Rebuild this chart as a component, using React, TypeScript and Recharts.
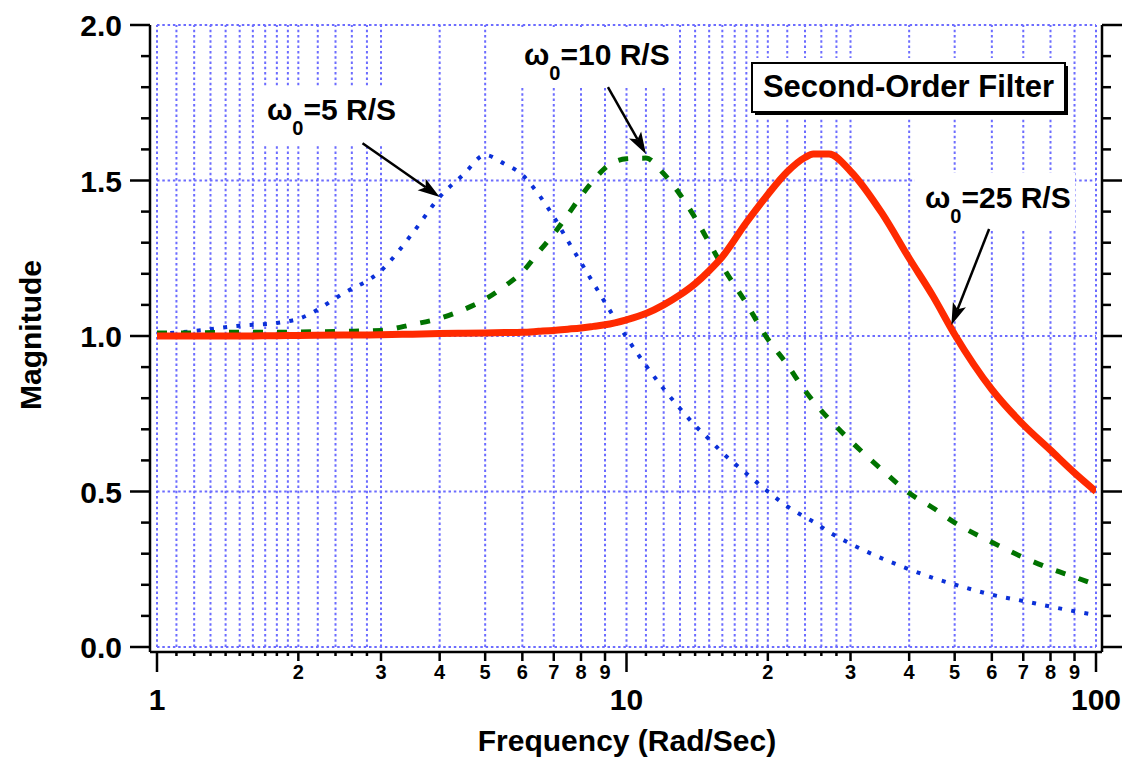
import React from 'react';
import { LineChart, Line, XAxis, YAxis, ReferenceLine } from 'recharts';

// Frequency samples (rad/s) shared by the three responses
const FREQ = [
  1, 1.2, 1.5, 1.8, 2, 2.5, 3, 3.5, 4, 4.5, 5, 5.5, 6, 6.5, 7, 7.5, 8, 8.5, 9, 10,
  11, 12, 13, 14, 15, 16, 18, 20, 22, 24, 25, 27, 30, 35, 40, 45, 50, 60, 70, 80, 90, 100,
];

// |H(jw)| for w0 = 5 rad/s
const MAG_W5 = [
  1.006, 1.016, 1.033, 1.042, 1.055, 1.138, 1.21, 1.33, 1.447, 1.52, 1.582, 1.553, 1.518, 1.455, 1.383, 1.306, 1.236, 1.17, 1.108, 0.996,
  0.905, 0.83, 0.767, 0.712, 0.668, 0.625, 0.558, 0.5, 0.452, 0.418, 0.403, 0.37, 0.332, 0.285, 0.25, 0.222, 0.201, 0.168, 0.148, 0.13, 0.115, 0.103,
];

// |H(jw)| for w0 = 10 rad/s
const MAG_W10 = [
  1.01, 1.01, 1.012, 1.012, 1.013, 1.015, 1.018, 1.037, 1.057, 1.085, 1.118, 1.16, 1.206, 1.27, 1.328, 1.39, 1.45, 1.5, 1.54, 1.57,
  1.572, 1.522, 1.455, 1.38, 1.3, 1.225, 1.105, 0.99, 0.908, 0.824, 0.79, 0.733, 0.663, 0.57, 0.495, 0.447, 0.4, 0.337, 0.288, 0.252, 0.225, 0.2,
];

// |H(jw)| for w0 = 25 rad/s
const MAG_W25 = [
  1.0, 1.0, 1.0, 1.001, 1.002, 1.003, 1.004, 1.006, 1.008, 1.009, 1.01, 1.011, 1.012, 1.015, 1.018, 1.022, 1.026, 1.031, 1.036, 1.052,
  1.072, 1.1, 1.132, 1.168, 1.21, 1.255, 1.365, 1.455, 1.528, 1.574, 1.585, 1.585, 1.53, 1.395, 1.25, 1.127, 1.005, 0.828, 0.715, 0.633, 0.56, 0.5,
];

// log-axis ticks; every tick also gets a grid line
const X_TICKS = [
  1, 1.1, 1.2, 1.3, 1.4, 1.5, 1.6, 1.7, 1.8, 1.9, 2, 2.2, 2.4, 2.6, 2.8, 3, 4, 5, 6, 7, 8, 9,
  10, 11, 12, 13, 14, 15, 16, 17, 18, 19, 20, 22, 24, 26, 28, 30, 40, 50, 60, 70, 80, 90, 100,
];
const X_LABELED = [1, 2, 3, 4, 5, 6, 7, 8, 9, 10, 20, 30, 40, 50, 60, 70, 80, 90, 100];
const X_MAJOR = [1, 10, 100];

const Y_TICKS = [0, 0.1, 0.2, 0.3, 0.4, 0.5, 0.6, 0.7, 0.8, 0.9, 1, 1.1, 1.2, 1.3, 1.4, 1.5, 1.6, 1.7, 1.8, 1.9, 2];
const Y_GRID = [0, 0.5, 1, 1.5, 2];

const W = 1125;
const H = 759;
// data area; the axes sit a few pixels outside it
const PLOT = { left: 157, right: 1096, top: 25, bottom: 647 };
const AXIS = { left: 150, right: 1102, bottom: 652 };

const FONT = '"Liberation Sans", Arial, Helvetica, sans-serif';
const GRID = '#6c6cff';
const INK = '#000';

const rows = FREQ.map((f, i) => ({ f, w5: MAG_W5[i], w10: MAG_W10[i], w25: MAG_W25[i] }));

// same mapping as the chart scales, used to pin annotations to data points
const toX = (f: number) => PLOT.left + ((PLOT.right - PLOT.left) * Math.log10(f)) / 2;
const toY = (m: number) => PLOT.bottom - ((PLOT.bottom - PLOT.top) * m) / 2;

function FreqTick({ x, y, payload }: any) {
  const v = payload.value;
  const major = X_MAJOR.includes(v);
  const labeled = X_LABELED.includes(v);
  const len = major ? 20 : labeled ? 9 : 4;
  let text = '';
  if (major) text = String(v);
  else if (labeled) text = String(v >= 10 ? v / 10 : v);
  return (
    <g>
      <line x1={x} x2={x} y1={y} y2={y + len} stroke={INK} strokeWidth={2.5} />
      {text && (
        <text
          x={x}
          y={major ? y + 58 : y + 27}
          textAnchor="middle"
          fontFamily={FONT}
          fontWeight={700}
          fontSize={major ? 30 : 20}
          fill={INK}
        >
          {text}
        </text>
      )}
    </g>
  );
}

function MagTick({ x, y, payload, side }: any) {
  const v = payload.value;
  const major = Math.round(v * 10) % 5 === 0;
  const len = major ? 20 : 9;
  const dir = side === 'left' ? -1 : 1;
  return (
    <g>
      <line x1={x} x2={x + dir * len} y1={y} y2={y} stroke={INK} strokeWidth={2.5} />
      {side === 'left' && major && (
        <text x={x - 28} y={y + 11} textAnchor="end" fontFamily={FONT} fontWeight={700} fontSize={30} fill={INK}>
          {v.toFixed(1)}
        </text>
      )}
    </g>
  );
}

function Arrow({ from, to }: { from: [number, number]; to: [number, number] }) {
  const x1 = toX(from[0]);
  const y1 = toY(from[1]);
  const x2 = toX(to[0]);
  const y2 = toY(to[1]);
  const ang = Math.atan2(y2 - y1, x2 - x1);
  const len = 22;
  const half = 7;
  const bx = x2 - len * Math.cos(ang);
  const by = y2 - len * Math.sin(ang);
  const nx = bx + 5 * Math.cos(ang);
  const ny = by + 5 * Math.sin(ang);
  const px = -Math.sin(ang) * half;
  const py = Math.cos(ang) * half;
  return (
    <g>
      <line x1={x1} y1={y1} x2={nx} y2={ny} stroke={INK} strokeWidth={2.5} />
      <polygon points={`${x2},${y2} ${bx + px},${by + py} ${nx},${ny} ${bx - px},${by - py}`} fill={INK} />
    </g>
  );
}

function OmegaLabel({ x, y, value }: { x: number; y: number; value: string }) {
  return (
    <text x={x} y={y} fontFamily={FONT} fontWeight={700} fontSize={30} fill={INK}>
      ω
      <tspan dy={15} fontSize={20}>0</tspan>
      <tspan dy={-15}>{`=${value} R/S`}</tspan>
    </text>
  );
}

// axes are 1px wide boxes hugging the plot edge so their lines land on AXIS
const axisLine = { stroke: INK, strokeWidth: 2.5 };

export default function App() {
  return (
    <div style={{ position: 'absolute', left: 0, top: 0, width: W, height: H, background: '#fff' }}>
      <LineChart
        width={W}
        height={H}
        data={rows}
        margin={{ top: PLOT.top, right: W - AXIS.right - 1, bottom: H - AXIS.bottom - 1, left: AXIS.left - 1 }}
      >
        {X_TICKS.map((v) => (
          <ReferenceLine
            key={`gx${v}`}
            segment={[{ x: v, y: 0 }, { x: v, y: 2 }]}
            stroke={GRID}
            strokeWidth={2}
            strokeDasharray="2.5 2.8"
          />
        ))}
        {Y_GRID.map((v) => (
          <ReferenceLine
            key={`gy${v}`}
            segment={[{ x: 1, y: v }, { x: 100, y: v }]}
            stroke={GRID}
            strokeWidth={2}
            strokeDasharray="2.5 2.8"
          />
        ))}
        <XAxis
          dataKey="f"
          type="number"
          scale="log"
          domain={[1, 100]}
          allowDataOverflow
          ticks={X_TICKS}
          interval={0}
          tick={(p: any) => <FreqTick {...p} />}
          tickLine={false}
          tickSize={0}
          tickMargin={0}
          axisLine={axisLine}
          padding={{ left: PLOT.left - AXIS.left, right: AXIS.right - PLOT.right }}
          height={1}
        />
        <YAxis
          type="number"
          domain={[0, 2]}
          allowDataOverflow
          ticks={Y_TICKS}
          interval={0}
          tick={(p: any) => <MagTick {...p} side="left" />}
          tickLine={false}
          tickSize={0}
          tickMargin={0}
          axisLine={axisLine}
          padding={{ top: 0, bottom: AXIS.bottom - PLOT.bottom }}
          width={1}
        />
        <YAxis
          yAxisId="r"
          orientation="right"
          type="number"
          domain={[0, 2]}
          allowDataOverflow
          ticks={Y_TICKS}
          interval={0}
          tick={(p: any) => <MagTick {...p} side="right" />}
          tickLine={false}
          tickSize={0}
          tickMargin={0}
          axisLine={axisLine}
          padding={{ top: 0, bottom: AXIS.bottom - PLOT.bottom }}
          width={1}
        />
        <Line
          dataKey="w5"
          type="monotone"
          stroke="#0b30d8"
          strokeWidth={4}
          strokeDasharray="4 9.3"
          dot={false}
          isAnimationActive={false}
        />
        <Line
          dataKey="w10"
          type="monotone"
          stroke="#007300"
          strokeWidth={5}
          strokeDasharray="10 14"
          dot={false}
          isAnimationActive={false}
        />
        <Line
          dataKey="w25"
          type="monotone"
          stroke="#ff2a00"
          strokeWidth={7}
          strokeLinejoin="round"
          dot={false}
          isAnimationActive={false}
        />
      </LineChart>

      <svg width={W} height={H} style={{ position: 'absolute', left: 0, top: 0, pointerEvents: 'none' }}>
        {/* label backdrops hide the grid behind the text */}
        <rect x={258} y={87} width={147} height={57} fill="#fff" />
        <rect x={515} y={27} width={162} height={60} fill="#fff" />
        <rect x={915} y={173} width={160} height={56} fill="#fff" />
        <rect x={748} y={58} width={322} height={60} fill="#fff" />

        <OmegaLabel x={267} y={120} value="5" />
        <OmegaLabel x={524} y={65} value="10" />
        <OmegaLabel x={925} y={208} value="25" />

        <Arrow from={[2.74, 1.62]} to={[4, 1.447]} />
        <Arrow from={[9.13, 1.8]} to={[11, 1.585]} />
        <Arrow from={[59.2, 1.344]} to={[49.2, 1.035]} />

        <rect x={755} y={66} width={313} height={49} fill={INK} />
        <rect x={752} y={63} width={313} height={49} fill="#fff" stroke={INK} strokeWidth={2} />
        <text x={908.5} y={97} textAnchor="middle" fontFamily={FONT} fontWeight={700} fontSize={31} fill={INK}>
          Second-Order Filter
        </text>

        <text x={627} y={751} textAnchor="middle" fontFamily={FONT} fontWeight={700} fontSize={30} fill={INK}>
          Frequency (Rad/Sec)
        </text>
        <text
          x={0}
          y={0}
          transform="translate(41 335) rotate(-90)"
          textAnchor="middle"
          fontFamily={FONT}
          fontWeight={700}
          fontSize={30}
          fill={INK}
        >
          Magnitude
        </text>
      </svg>
    </div>
  );
}
